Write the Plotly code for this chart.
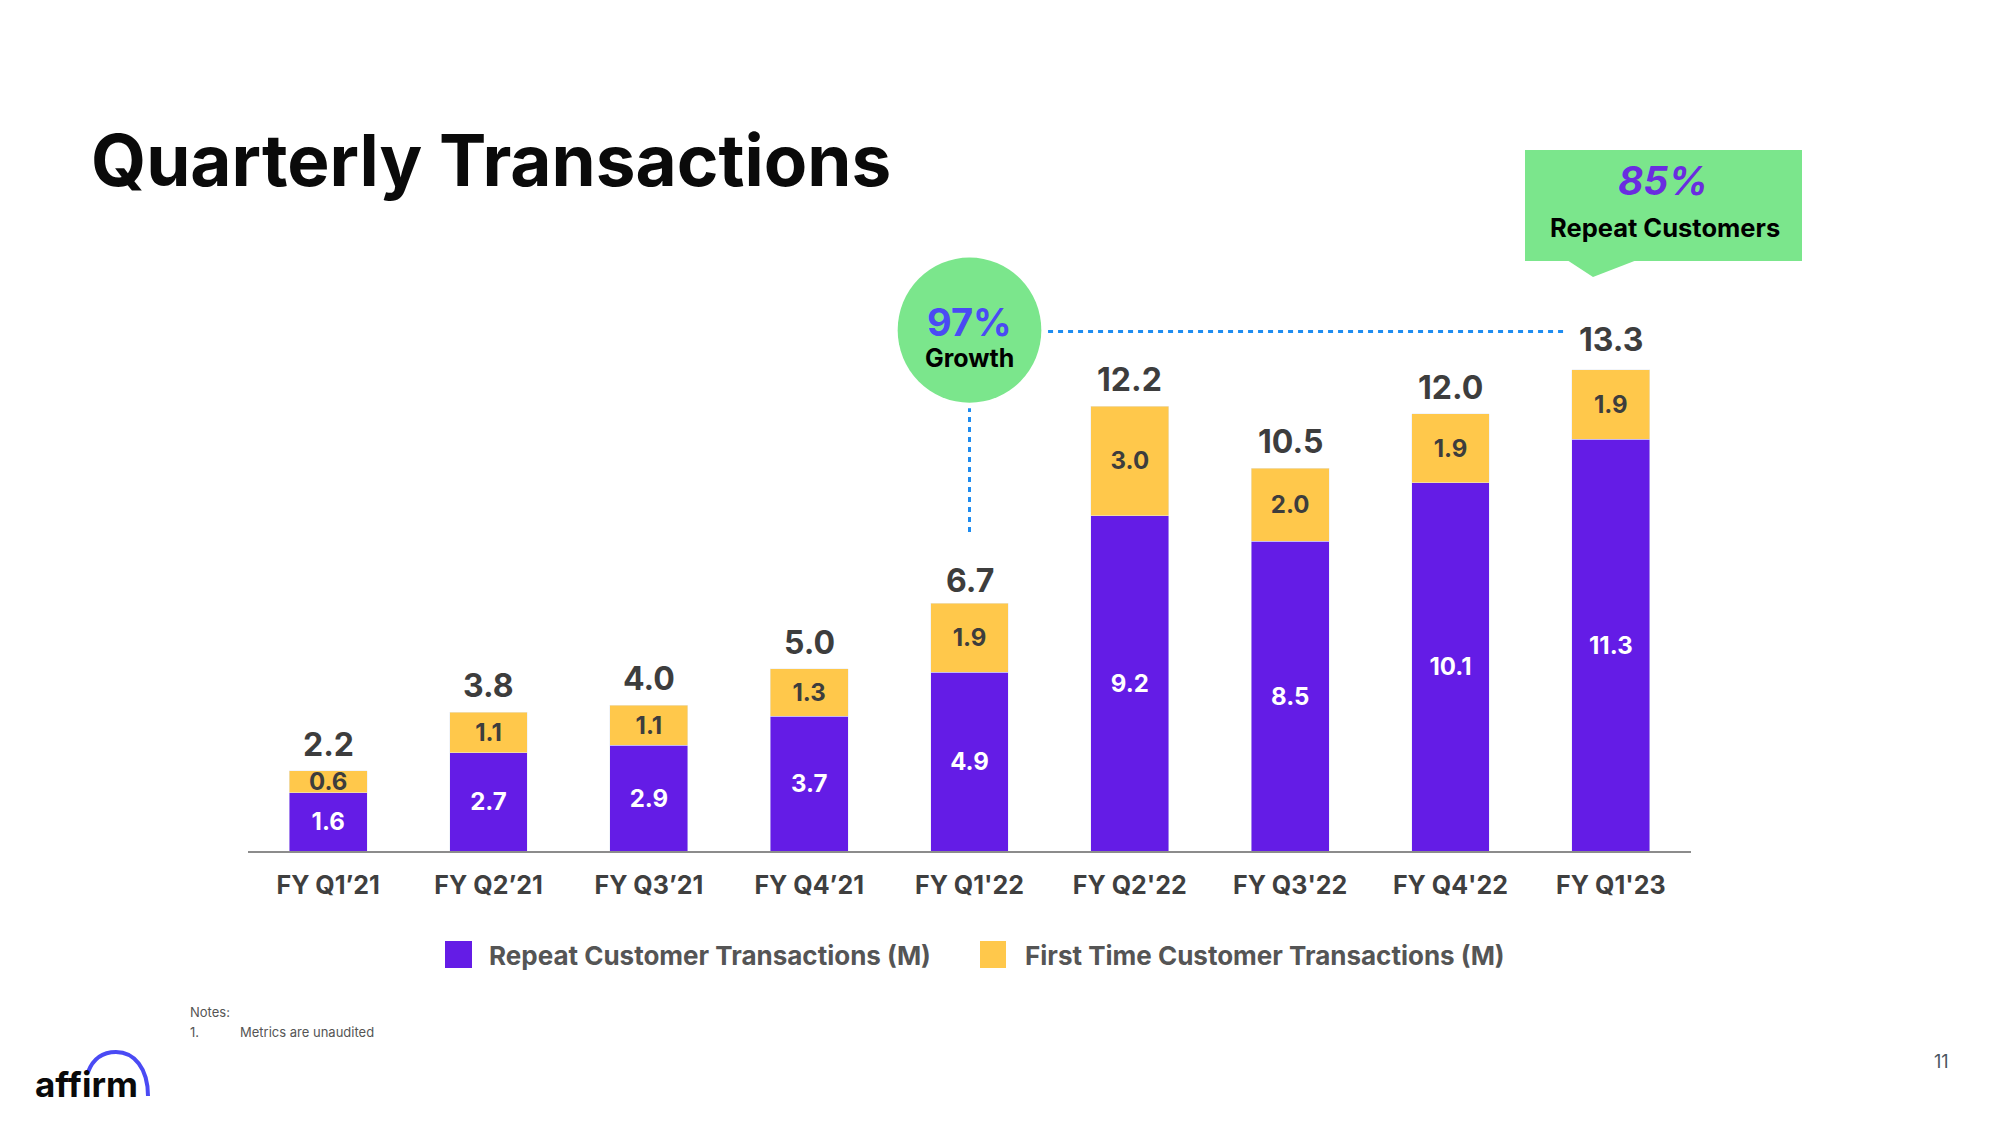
import plotly.graph_objects as go

# ---------------- data ----------------
quarters = ["FY Q1’21", "FY Q2’21", "FY Q3’21", "FY Q4’21", "FY Q1'22",
            "FY Q2'22", "FY Q3'22", "FY Q4'22", "FY Q1'23"]
repeat_tx = [1.6, 2.7, 2.9, 3.7, 4.9, 9.2, 8.5, 10.1, 11.3]
first_time_tx = [0.6, 1.1, 1.1, 1.3, 1.9, 3.0, 2.0, 1.9, 1.9]
totals = [2.2, 3.8, 4.0, 5.0, 6.7, 12.2, 10.5, 12.0, 13.3]
series_names = ["Repeat Customer Transactions (M)", "First Time Customer Transactions (M)"]
growth_text = "97%"
repeat_share_text = "85%"

# ---------------- style ----------------
FONT = "Inter"
PURPLE = "#641CE6"
YELLOW = "#FFC84B"
GREEN = "#7BE68C"
BLUE_DOT = "#1E8CF0"
DARK = "#3D3D3D"

W, H = 2000, 1125
OFF = 8                                 # page body margin of the html page
PL, PR, PB, PT = 248, 1691, 851, 122    # plot area in screen pixels
PW, PH = PR - PL, PB - PT


def px(x):
    return (x - PL) / PW


def py(y):
    return (PB - y) / PH


def ann(x, y, text, size, color, weight="bold", xanchor="center", yanchor="middle", **kw):
    return dict(x=px(x), y=py(y), xref="paper", yref="paper", text=text, showarrow=False,
                xanchor=xanchor, yanchor=yanchor,
                font=dict(family=FONT, size=size, color=color, weight=weight), **kw)


fig = go.Figure()
fig.add_trace(go.Bar(
    x=quarters, y=repeat_tx, name=series_names[0], marker_color=PURPLE,
    text=[f"{v:.1f}" for v in repeat_tx], textposition="inside",
    insidetextanchor="middle", constraintext="none",
    textfont=dict(family=FONT, size=24, color="white", weight="bold"),
    showlegend=False, hoverinfo="skip"))
fig.add_trace(go.Bar(
    x=quarters, y=first_time_tx, name=series_names[1], marker_color=YELLOW,
    text=[f"{v:.1f}" for v in first_time_tx], textposition="inside",
    insidetextanchor="middle", constraintext="none",
    textfont=dict(family=FONT, size=24, color=DARK, weight="bold"),
    showlegend=False, hoverinfo="skip"))

annotations = []
for q, t in zip(quarters, totals):
    annotations.append(dict(x=q, y=t, xref="x", yref="y", text=f"{t:.1f}",
                            showarrow=False, xanchor="center", yanchor="bottom", yshift=5,
                            font=dict(family=FONT, size=32, color=DARK, weight="bold")))

# Title
annotations.append(ann(89, 155, "Quarterly Transactions", 71, "#0A0A0A",
                       xanchor="left", yshift=-5))

# Growth bubble
CX, CY = 4, 14.29
shapes = [
    dict(type="circle", xref="x", yref="y", x0=CX - 0.448, x1=CX + 0.448,
         y0=CY - 1.99, y1=CY + 1.99, fillcolor=GREEN, line=dict(width=0), layer="below"),
    dict(type="line", xref="x", yref="y", x0=CX, x1=CX, y0=8.75, y1=12.15,
         line=dict(color=BLUE_DOT, width=3, dash="5px,5px")),
    dict(type="line", xref="x", yref="y", x0=4.49, x1=7.72, y0=14.25, y1=14.25,
         line=dict(color=BLUE_DOT, width=3, dash="5px,5px")),
]
annotations.append(dict(x=CX, y=CY, xref="x", yref="y", text=growth_text, showarrow=False,
                        xanchor="center", yanchor="middle", yshift=8,
                        font=dict(family=FONT, size=38, color="#4A4AF4", weight="bold")))
annotations.append(dict(x=CX, y=CY, xref="x", yref="y", text="Growth", showarrow=False,
                        xanchor="center", yanchor="middle", yshift=-28,
                        font=dict(family=FONT, size=25, color="#000000", weight="bold")))

# Repeat-customer callout
shapes.append(dict(type="rect", xref="paper", yref="paper", x0=px(1525), x1=px(1802),
                   y0=py(261), y1=py(150), fillcolor=GREEN, line=dict(width=0)))
shapes.append(dict(type="path", xref="paper", yref="paper",
                   path=f"M {px(1567)},{py(260)} L {px(1637)},{py(260)} L {px(1593)},{py(277)} Z",
                   fillcolor=GREEN, line=dict(width=0)))
annotations.append(ann(1663, 180, f"<i>{repeat_share_text}</i>", 39, "#6A2CE0"))
annotations.append(ann(1665, 228, "Repeat Customers", 25.5, "#000000"))

# Manual legend
for (x0, x1), color, name, tx in [((445, 472), PURPLE, series_names[0], 487),
                                  ((980, 1006), YELLOW, series_names[1], 1023)]:
    shapes.append(dict(type="rect", xref="paper", yref="paper", x0=px(x0), x1=px(x1),
                       y0=py(968), y1=py(941), fillcolor=color, line=dict(width=0)))
    annotations.append(ann(tx, 956, name, 26, "#555555", xanchor="left"))

# Notes
annotations.append(ann(188, 1012, "Notes:", 13, "#555555", weight="normal", xanchor="left"))
annotations.append(ann(188, 1032, "1.", 13, "#555555", weight="normal", xanchor="left"))
annotations.append(ann(238, 1032, "Metrics are unaudited", 13, "#555555", weight="normal", xanchor="left"))

# Logo
annotations.append(ann(33, 1084, "affirm", 35, "#0A0A0A", xanchor="left"))
shapes.append(dict(type="path", xref="paper", yref="paper",
                   path=(f"M {px(88)},{py(1072)} C {px(93)},{py(1059)} {px(103)},{py(1052)} {px(116)},{py(1052)} "
                         f"C {px(134)},{py(1052)} {px(148)},{py(1068)} {px(148)},{py(1096)}"),
                   line=dict(color="#4A4AF4", width=4)))

# Page number
annotations.append(ann(1941, 1061, "11", 18, "#4A5560", weight="normal"))

fig.update_layout(
    width=W, height=H,
    margin=dict(l=PL - OFF, r=W - PR + OFF, t=PT - OFF, b=H - PB + OFF, pad=0),
    paper_bgcolor="white", plot_bgcolor="white",
    barmode="stack", bargap=0.515,
    shapes=shapes, annotations=annotations,
    xaxis=dict(showline=True, linecolor="#8C8C8C", linewidth=2, showgrid=False,
               zeroline=False, ticks="", ticklabelstandoff=11, range=[-0.5, 8.5],
               tickfont=dict(family=FONT, size=25, color="#3F3F3F", weight="bold")),
    yaxis=dict(visible=False, range=[0, 20], showgrid=False, zeroline=False),
)

fig.write_html("out.html")
